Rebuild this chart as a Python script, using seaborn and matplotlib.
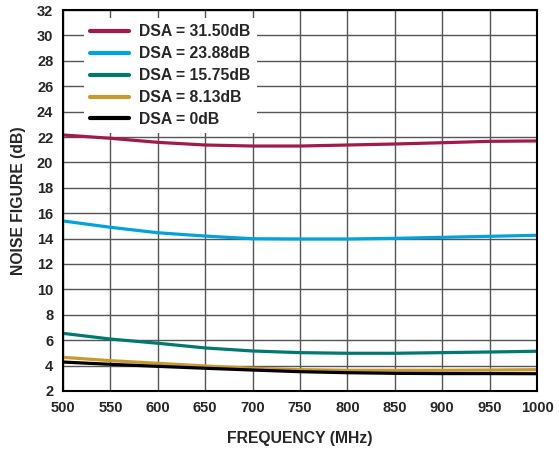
import matplotlib
matplotlib.use("Agg")
import matplotlib.pyplot as plt
import seaborn as sns
import pandas as pd

# 주파수별 잡음지수 (dB), 그림에서 읽은 값
freq_mhz = [500, 550, 600, 650, 700, 750, 800, 850, 900, 950, 1000]
nf_3150 = [22.16, 21.90, 21.58, 21.37, 21.29, 21.29, 21.37, 21.45, 21.55, 21.66, 21.69]
nf_2388 = [15.39, 14.89, 14.46, 14.20, 13.99, 13.97, 13.97, 14.02, 14.10, 14.18, 14.26]
nf_1575 = [6.54, 6.09, 5.76, 5.39, 5.15, 5.02, 4.97, 4.97, 5.02, 5.07, 5.13]
nf_0813 = [4.65, 4.39, 4.18, 3.97, 3.79, 3.68, 3.63, 3.63, 3.63, 3.65, 3.68]
nf_0000 = [4.28, 4.10, 3.94, 3.79, 3.65, 3.52, 3.44, 3.39, 3.37, 3.37, 3.36]

labels = ["DSA = 31.50dB", "DSA = 23.88dB", "DSA = 15.75dB", "DSA = 8.13dB", "DSA = 0dB"]
colors = ["#A3194B", "#00A3DD", "#007A6F", "#C89A2E", "#000000"]

series = [nf_3150, nf_2388, nf_1575, nf_0813, nf_0000]
rows = []
for lab, vals in zip(labels, series):
    for f, v in zip(freq_mhz, vals):
        rows.append({"freq": f, "nf": v, "dsa": lab})
df = pd.DataFrame(rows)

sns.set_style("white")
plt.rcParams["font.family"] = ["Liberation Sans", "DejaVu Sans"]
plt.rcParams["font.weight"] = "bold"

fig = plt.figure(figsize=(5.59, 4.49), dpi=100)
ax = fig.add_axes([0.1127, 0.1292, 0.848, 0.8485])

sns.lineplot(data=df, x="freq", y="nf", hue="dsa", hue_order=labels,
             palette=colors, linewidth=2.3, ax=ax)

ax.set_xlim(500, 1000)
ax.set_ylim(2, 32)
ax.set_xticks(range(500, 1001, 50))
ax.set_yticks(range(2, 33, 2))
ax.grid(True, color="#555555", linewidth=1.0)
ax.set_axisbelow(True)
for s in ax.spines.values():
    s.set_color("black")
    s.set_linewidth(1.5)
ax.tick_params(axis="x", length=0, labelsize=10.5, pad=7)
ax.tick_params(axis="y", length=0, labelsize=10.5, pad=7)
for t in ax.get_xticklabels() + ax.get_yticklabels():
    t.set_fontweight("bold")

ax.set_xlabel("FREQUENCY (MHz)", fontsize=11.3, fontweight="bold", labelpad=12)
ax.set_ylabel("NOISE FIGURE (dB)", fontsize=11.3, fontweight="bold", labelpad=8)

leg = ax.legend(loc="upper left", bbox_to_anchor=(0.044, 0.979), frameon=True,
                framealpha=1, facecolor="white", edgecolor="white",
                fontsize=11.3, handlelength=2.5, handletextpad=0.62,
                labelspacing=0.44, borderpad=0.4, borderaxespad=0)
leg.get_frame().set_linewidth(0)
for t in leg.get_texts():
    t.set_fontweight("bold")
for h in leg.get_lines():
    h.set_linewidth(3)

fig.savefig("out.png", dpi=100)
